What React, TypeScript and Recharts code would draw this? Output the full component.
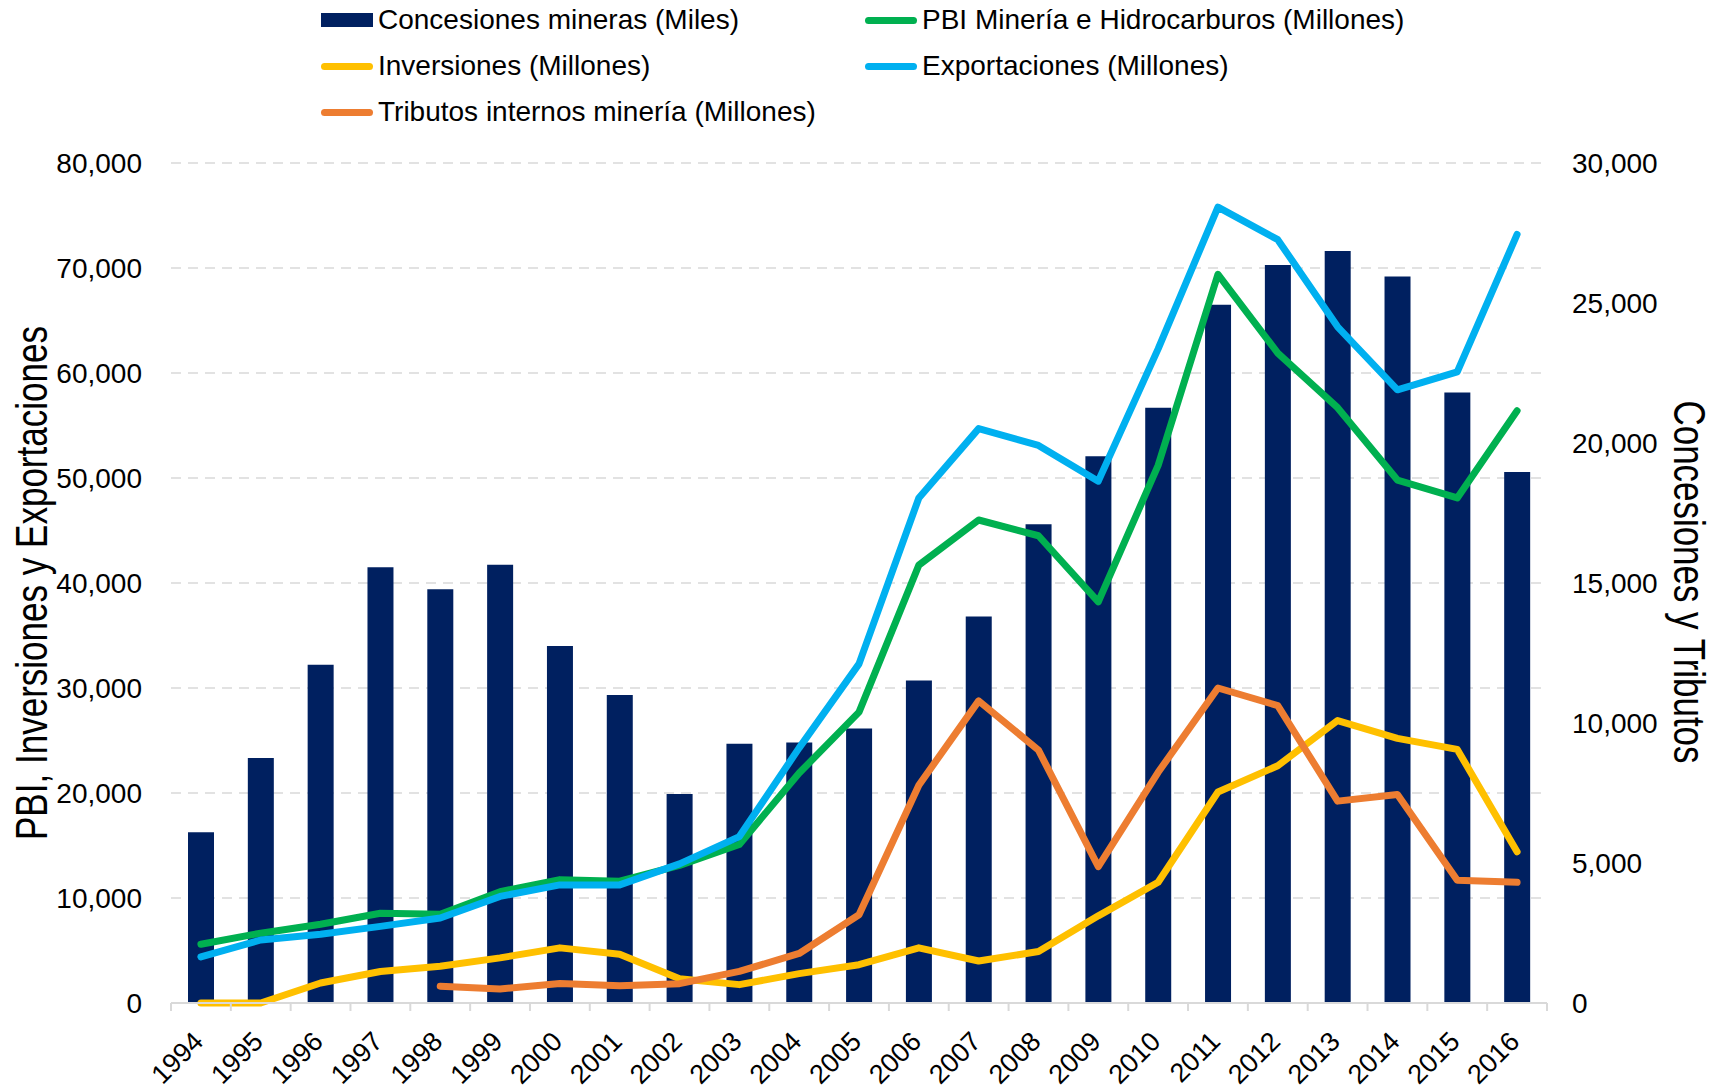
import { Bar, CartesianGrid, ComposedChart, Line, XAxis, YAxis } from 'recharts'

const YEARS = ['1994', '1995', '1996', '1997', '1998', '1999', '2000', '2001', '2002', '2003', '2004', '2005', '2006', '2007', '2008', '2009', '2010', '2011', '2012', '2013', '2014', '2015', '2016']

// right axis (miles)
const CONCESIONES = [6100, 8750, 12080, 15560, 14780, 15650, 12750, 11000, 7460, 9260, 9300, 9800, 11520, 13800, 17100, 19530, 21260, 24940, 26360, 26860, 25950, 21800, 18960]
// left axis (millones)
const PBI = [5600, 6650, 7500, 8550, 8450, 10600, 11750, 11600, 13100, 15100, 21900, 27700, 41700, 46000, 44500, 38200, 51200, 69400, 61900, 56700, 49800, 48100, 56400]
const INVERSIONES = [0, 0, 1900, 3000, 3500, 4300, 5250, 4650, 2300, 1750, 2800, 3650, 5250, 4000, 4900, 8300, 11500, 20100, 22600, 26900, 25200, 24150, 14400]
const EXPORTACIONES = [4400, 6000, 6550, 7300, 8100, 10150, 11250, 11250, 13250, 15850, 24300, 32300, 48100, 54700, 53100, 49700, 62300, 75800, 72700, 64400, 58400, 60100, 73200]
// right axis (millones)
const TRIBUTOS = [null, null, null, null, 600, 500, 700, 620, 690, 1130, 1770, 3150, 7780, 10790, 9030, 4870, 8240, 11250, 10620, 7210, 7450, 4380, 4310]

const LEFT_TICKS = [0, 10000, 20000, 30000, 40000, 50000, 60000, 70000, 80000]
const RIGHT_TICKS = [0, 5000, 10000, 15000, 20000, 25000, 30000]

const NAVY = '#002060'
const GREEN = '#00B050'
const YELLOW = '#FFC000'
const BLUE = '#00B0F0'
const ORANGE = '#ED7D31'

const FONT = '"Liberation Sans", Arial, sans-serif'
const W = 1723
const H = 1087
const LEFT_W = 171
const RIGHT_W = 176
const BAND = (W - LEFT_W - RIGHT_W) / YEARS.length

const data = YEARS.map((year, i) => ({
  year,
  concesiones: CONCESIONES[i],
  pbi: PBI[i],
  inversiones: INVERSIONES[i],
  exportaciones: EXPORTACIONES[i],
  tributos: TRIBUTOS[i],
}))

const fmt = (v: number) => Number(v).toLocaleString('en-US')

function YearTick(props: any) {
  const { x, y, payload, index } = props
  const ax = x + 4
  const ay = y + 40
  return (
    <g>
      <line x1={x - BAND / 2} x2={x - BAND / 2} y1={y} y2={y + 8} stroke="#d9d9d9" strokeWidth={2} />
      {index === YEARS.length - 1 && (
        <line x1={x + BAND / 2} x2={x + BAND / 2} y1={y} y2={y + 8} stroke="#d9d9d9" strokeWidth={2} />
      )}
      <text x={ax} y={ay} textAnchor="end" transform={`rotate(-45 ${ax} ${ay})`} fontSize={27} fill="#000" fontFamily={FONT}>
        {payload.value}
      </text>
    </g>
  )
}

const leftTitle = () => (
  <text
    x={31}
    y={583}
    transform="rotate(-90 31 583)"
    textAnchor="middle"
    dominantBaseline="central"
    fontSize={45}
    textLength={514}
    lengthAdjust="spacingAndGlyphs"
    fill="#000"
    fontFamily={FONT}
  >
    PBI, Inversiones y Exportaciones
  </text>
)

const rightTitle = () => (
  <text
    x={1689}
    y={582}
    transform="rotate(90 1689 582)"
    textAnchor="middle"
    dominantBaseline="central"
    fontSize={45}
    textLength={363}
    lengthAdjust="spacingAndGlyphs"
    fill="#000"
    fontFamily={FONT}
  >
    Concesiones y Tributos
  </text>
)

const LEGEND = [
  { label: 'Concesiones mineras (Miles)', color: NAVY, bar: true, x: 321, y: 20 },
  { label: 'PBI Minería e Hidrocarburos (Millones)', color: GREEN, bar: false, x: 865, y: 20 },
  { label: 'Inversiones (Millones)', color: YELLOW, bar: false, x: 321, y: 66 },
  { label: 'Exportaciones (Millones)', color: BLUE, bar: false, x: 865, y: 66 },
  { label: 'Tributos internos minería (Millones)', color: ORANGE, bar: false, x: 321, y: 112 },
]

function ChartLegend() {
  return (
    <>
      {LEGEND.map((item) => (
        <div
          key={item.label}
          style={{ position: 'absolute', left: item.x, top: item.y - 20, height: 40, display: 'flex', alignItems: 'center' }}
        >
          <div
            style={{
              width: 52,
              height: item.bar ? 14 : 7,
              background: item.color,
              borderRadius: item.bar ? 0 : 4,
              marginRight: 5,
            }}
          />
          <span style={{ fontSize: 28, color: '#000', whiteSpace: 'nowrap' }}>{item.label}</span>
        </div>
      ))}
    </>
  )
}

export default function App() {
  return (
    <div style={{ position: 'absolute', left: 0, top: 0, width: W, height: H, fontFamily: FONT, background: '#fff' }}>
      <ComposedChart width={W} height={H} data={data} margin={{ top: 163, right: 0, bottom: 0, left: 0 }}>
        <CartesianGrid yAxisId="left" vertical={false} stroke="#d9d9d9" strokeWidth={1.5} strokeDasharray="10 7" />
        <XAxis
          dataKey="year"
          height={84}
          axisLine={{ stroke: '#d9d9d9', strokeWidth: 2 }}
          tickLine={false}
          tickSize={0}
          tickMargin={0}
          interval={0}
          tick={<YearTick />}
        />
        <YAxis
          yAxisId="left"
          width={LEFT_W}
          domain={[0, 80000]}
          ticks={LEFT_TICKS}
          axisLine={false}
          tickLine={false}
          tickSize={0}
          tickMargin={29}
          tickFormatter={fmt}
          tick={{ fill: '#000', fontSize: 28, fontFamily: FONT }}
          label={{ content: leftTitle }}
        />
        <YAxis
          yAxisId="right"
          orientation="right"
          width={RIGHT_W}
          domain={[0, 30000]}
          ticks={RIGHT_TICKS}
          axisLine={false}
          tickLine={false}
          tickSize={0}
          tickMargin={25}
          tickFormatter={fmt}
          tick={{ fill: '#000', fontSize: 28, fontFamily: FONT, textAnchor: 'start' }}
          label={{ content: rightTitle }}
        />
        <Bar yAxisId="right" dataKey="concesiones" fill={NAVY} barSize={26} isAnimationActive={false} />
        <Line yAxisId="left" dataKey="pbi" stroke={GREEN} strokeWidth={7} dot={false} strokeLinecap="round" strokeLinejoin="round" isAnimationActive={false} />
        <Line yAxisId="left" dataKey="inversiones" stroke={YELLOW} strokeWidth={7} dot={false} strokeLinecap="round" strokeLinejoin="round" isAnimationActive={false} />
        <Line yAxisId="left" dataKey="exportaciones" stroke={BLUE} strokeWidth={7} dot={false} strokeLinecap="round" strokeLinejoin="round" isAnimationActive={false} />
        <Line yAxisId="right" dataKey="tributos" stroke={ORANGE} strokeWidth={7} dot={false} strokeLinecap="round" strokeLinejoin="round" isAnimationActive={false} />
      </ComposedChart>
      <ChartLegend />
    </div>
  )
}
